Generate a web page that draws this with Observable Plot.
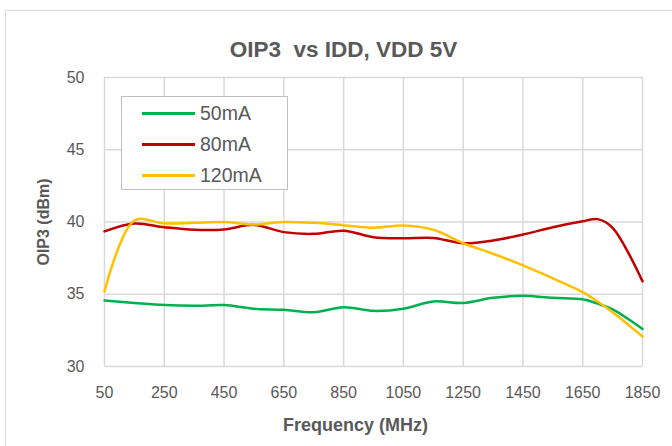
<!DOCTYPE html>
<html><head><meta charset="utf-8">
<script src="https://cdn.jsdelivr.net/npm/d3@7"></script>
<script src="https://cdn.jsdelivr.net/npm/@observablehq/plot@0.6"></script>
<style>
body{margin:0;background:#fff;font-family:"Liberation Sans",Arial,sans-serif;}
#wrap{position:relative;width:672px;height:446px;overflow:hidden;}
#border{position:absolute;left:5px;top:10px;width:720px;height:500px;border:1px solid #d9d9d9;box-sizing:border-box;}
#legend{position:absolute;left:121px;top:96px;width:167px;height:94px;border:1.5px solid #bfbfbf;background:#fff;box-sizing:border-box;}
.li{position:absolute;left:20px;height:20px;display:flex;align-items:center;font-size:19.5px;color:#595959;}
.li span.sw{display:inline-block;width:53px;height:3px;margin-right:5px;}
svg{position:absolute;left:0;top:0;}
</style></head>
<body><div id="wrap"><div id="border"></div></div>
<script>
const title = "OIP3  vs IDD, VDD 5V";
const xTitle = "Frequency (MHz)";
const yTitle = "OIP3 (dBm)";
const seriesNames = ["50mA", "80mA", "120mA"];
const seriesColors = ["#00b050", "#c00000", "#ffc000"];
const freqs = [50,150,250,350,450,550,650,750,850,950,1050,1150,1250,1350,1450,1550,1650,1700,1750,1850];
const oip3_50mA = [34.57,34.4,34.25,34.2,34.25,34.0,33.92,33.75,34.1,33.85,34.0,34.5,34.4,34.75,34.9,34.75,34.65,34.35,33.95,32.6];
const oip3_80mA = [39.35,39.9,39.64,39.46,39.48,39.8,39.3,39.18,39.4,38.95,38.88,38.9,38.53,38.72,39.13,39.64,40.05,40.2,39.6,35.9];
const oip3_120mA = [35.2,40.1,39.9,39.94,40.0,39.83,40.0,39.94,39.78,39.6,39.76,39.46,38.53,37.8,37.0,36.1,35.15,34.5,33.76,32.08];
const xTicks = [50,250,450,650,850,1050,1250,1450,1650,1850];
const yTicks = [30,35,40,45,50];

const seriesVals = [oip3_50mA, oip3_80mA, oip3_120mA];
const data = seriesNames.flatMap((s, i) => freqs.map((f, j) => ({series: s, f, v: seriesVals[i][j]})));
const grid = "#d9d9d9";
const txt = "#595959";

const chart = Plot.plot({
  width: 672, height: 446,
  marginLeft: 104, marginRight: 30, marginTop: 77, marginBottom: 80,
  style: {fontFamily: '"Liberation Sans",Arial,sans-serif', fontSize: "16px", color: txt, background: "transparent"},
  x: {domain: [50, 1850]},
  y: {domain: [30, 50]},
  color: {domain: seriesNames, range: seriesColors},
  marks: [
    Plot.gridX(xTicks, {stroke: grid, strokeOpacity: 1, strokeWidth: 1.5}),
    Plot.gridY(yTicks, {stroke: grid, strokeOpacity: 1, strokeWidth: 1.5}),
    Plot.axisX(xTicks, {tickSize: 0, tickPadding: 20, label: null, tickFormat: d => String(d), fill: txt, fontSize: 16}),
    Plot.axisY(yTicks, {tickSize: 0, tickPadding: 20, label: null, fill: txt, fontSize: 16}),
    Plot.line(data, {x: "f", y: "v", z: "series", stroke: "series", strokeWidth: 2.5, curve: "catmull-rom"}),
    Plot.text([title], {frameAnchor: "top", dy: -28, dx: -30, lineAnchor: "middle", textAnchor: "middle", fontSize: 22.5, fontWeight: "bold", fill: txt}),
    Plot.text([xTitle], {frameAnchor: "bottom", dy: 59, dx: -18, lineAnchor: "middle", textAnchor: "middle", fontSize: 18, fontWeight: "bold", fill: txt}),
    Plot.text([yTitle], {frameAnchor: "left", dx: -61, rotate: -90, lineAnchor: "middle", textAnchor: "middle", fontSize: 16, fontWeight: "bold", fill: txt})
  ]
});
const wrap = document.getElementById("wrap");
wrap.appendChild(chart);
const lg = document.createElement("div");
lg.id = "legend";
seriesNames.forEach((s, i) => {
  const d = document.createElement("div");
  d.className = "li";
  d.style.top = (6 + i * 31) + "px";
  d.innerHTML = `<span class="sw" style="background:${seriesColors[i]}"></span>${s}`;
  lg.appendChild(d);
});
wrap.appendChild(lg);
</script></body></html>
